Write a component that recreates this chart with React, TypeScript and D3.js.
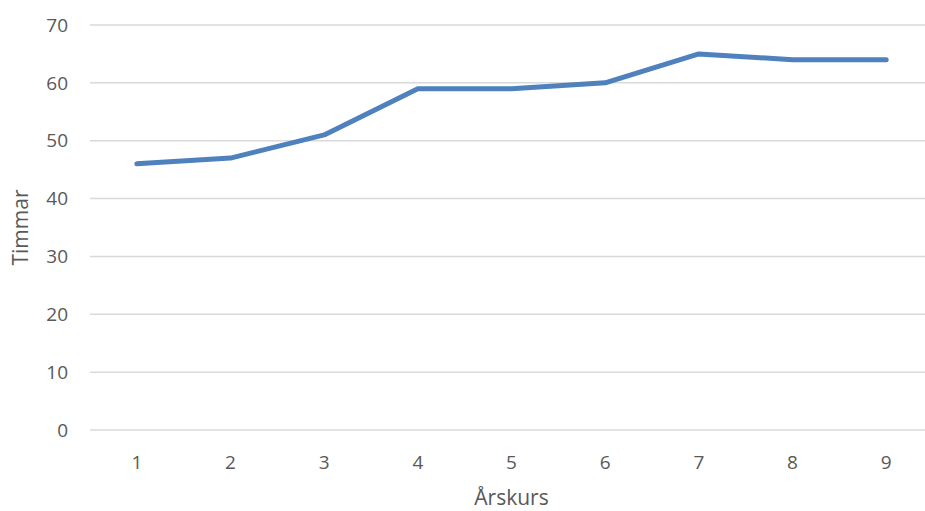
import React from 'react';
import * as d3 from 'd3';

const grades = ['1', '2', '3', '4', '5', '6', '7', '8', '9'];
const hours = [46, 47, 51, 59, 59, 60, 65, 64, 64];
const yTicks = [0, 10, 20, 30, 40, 50, 60, 70];

const width = 925;
const height = 511;
const font = "'Open Sans', 'Liberation Sans', sans-serif";
const textColor = '#595959';

export default function App() {
  const x = d3.scalePoint<string>().domain(grades).range([90, 933]).padding(0.5);
  const y = d3.scaleLinear().domain([0, 70]).range([430, 25]);

  const line = d3
    .line<number>()
    .x((_, i) => x(grades[i]) as number)
    .y((d) => y(d));

  return (
    <svg
      width={width}
      height={height}
      style={{ position: 'absolute', left: 0, top: 0, background: '#fff' }}
      fontFamily={font}
    >
      <rect width={width} height={height} fill="#fff" />
      {yTicks.map((t) => (
        <g key={t}>
          <line x1={90} x2={933} y1={y(t)} y2={y(t)} stroke="#d9d9d9" strokeWidth={1.5} />
          <text x={68} y={y(t)} dy="0.35em" textAnchor="end" fontSize={19} fill={textColor}>
            {t}
          </text>
        </g>
      ))}
      {grades.map((g) => (
        <text key={g} x={x(g)} y={469} textAnchor="middle" fontSize={19} fill={textColor}>
          {g}
        </text>
      ))}
      <path
        d={line(hours) || ''}
        fill="none"
        stroke="#4f81bd"
        strokeWidth={5}
        strokeLinejoin="round"
        strokeLinecap="round"
      />
      <text
        transform={`translate(28, ${y(35)}) rotate(-90)`}
        textAnchor="middle"
        fontSize={21}
        fill={textColor}
      >
        Timmar
      </text>
      <text x={x('5')} y={505} textAnchor="middle" fontSize={21} fill={textColor}>
        Årskurs
      </text>
    </svg>
  );
}
